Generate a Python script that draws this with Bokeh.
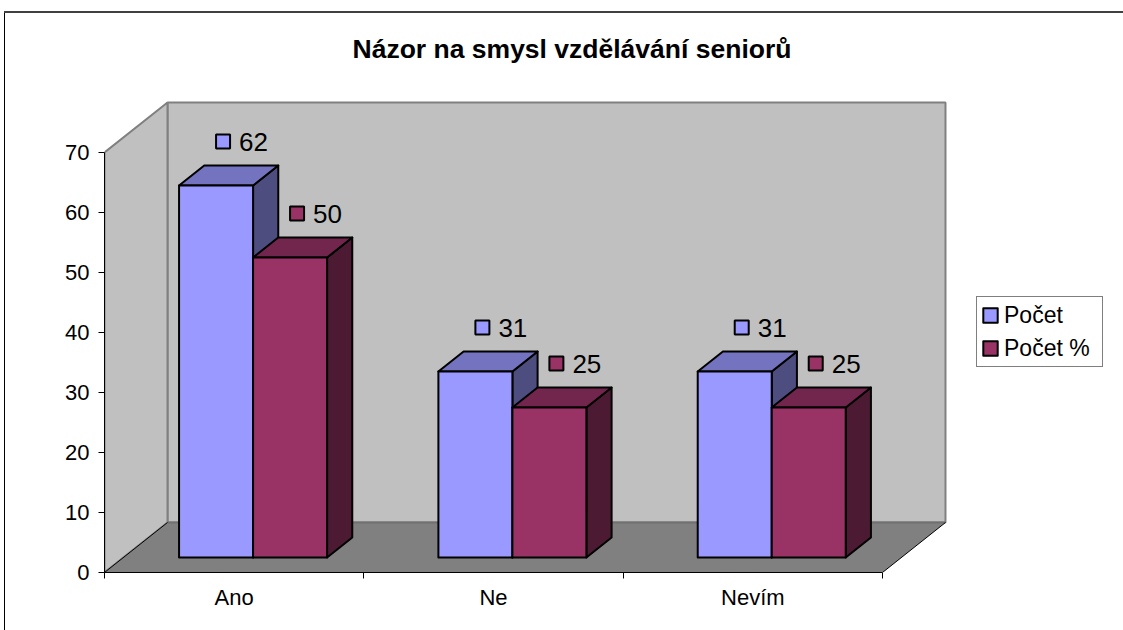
from bokeh.plotting import figure
from bokeh.models import Range1d, FixedTicker, Legend, LegendItem
from bokeh.embed import file_html
from bokeh.resources import INLINE
from bokeh.core.properties import value

# ---------------- data ----------------
chart_title = "Názor na smysl vzdělávání seniorů"
categories = ["Ano", "Ne", "Nevím"]
series_names = ["Počet", "Počet %"]
pocet = [62, 31, 31]
pocet_pct = [50, 25, 25]
y_ticks = [0, 10, 20, 30, 40, 50, 60, 70]
y_max = 70

# ---------------- style / layout ----------------
FONT = "Liberation Sans"
W, H = 1123, 630
ML, MB = 104, 58           # frame left at x=104, bottom at y=572
SX = 259.33                # px per category
SY = 6.0                   # px per value unit
x_end = (W - ML) / SX
y_end = (H - MB) / SY
DEPTH_X = 63 / SX
DEPTH_Y = 50 / SY
BAR_W = 74 / SX
F0, F1 = 0.3, 0.7
LBL_DX = 7 / SX
LBL_DY = 44 / SY

front_colors = ["#9999FF", "#993366"]
top_colors = ["#7373BF", "#73264D"]
side_colors = ["#4D4D80", "#4D1A33"]
WALL = "#C0C0C0"
WALL_EDGE = "#808080"
FLOOR = "#808080"

n = len(categories)

# outer chart border (top and left edges) drawn as background of the figure host
border_css = ("linear-gradient(#404040,#404040) 4px 11px / 1119px 2px no-repeat, "
              "linear-gradient(#000000,#000000) 4px 11px / 1px 619px no-repeat, white")

p = figure(width=W, height=H, output_backend="svg", toolbar_location=None,
           x_range=Range1d(0, x_end), y_range=Range1d(0, y_end),
           min_border_left=ML, min_border_bottom=MB, min_border_top=0, min_border_right=0,
           styles={"background": border_css})
p.background_fill_color = None
p.border_fill_color = None
p.outline_line_color = None
p.grid.visible = False

# ---------------- walls & floor ----------------
p.quad(left=DEPTH_X, right=n + DEPTH_X, bottom=DEPTH_Y, top=y_max + DEPTH_Y,
       fill_color=WALL, line_color=WALL_EDGE, line_width=2)
p.patch([0, DEPTH_X, DEPTH_X, 0], [0, DEPTH_Y, y_max + DEPTH_Y, y_max],
        fill_color=WALL, line_color=WALL_EDGE, line_width=2)
p.patch([0, DEPTH_X, n + DEPTH_X, n], [0, DEPTH_Y, DEPTH_Y, 0],
        fill_color=FLOOR, line_color=None)
p.line([DEPTH_X, n + DEPTH_X], [DEPTH_Y, DEPTH_Y], line_color="#707070", line_width=2)
p.line([n, n + DEPTH_X], [-1.2 / SY, DEPTH_Y - 1.2 / SY], line_color="white", line_width=1)
p.segment(x0=[0, n], y0=[0, 0], x1=[DEPTH_X, n + DEPTH_X], y1=[DEPTH_Y, DEPTH_Y],
          line_color="black", line_width=1)

# ---------------- bars ----------------
front_renderers = []
ddx = (F1 - F0) * DEPTH_X
ddy = (F1 - F0) * DEPTH_Y
for s, vals in enumerate([pocet, pocet_pct]):
    fl, fr, fb, ft = [], [], [], []
    tx, ty, sxs, sys_ = [], [], [], []
    lx, ly, lt = [], [], []
    for i, v in enumerate(vals):
        xl = i + 0.5 - BAR_W + s * BAR_W + F0 * DEPTH_X
        xr = xl + BAR_W
        yb = F0 * DEPTH_Y
        yt = yb + v
        fl.append(xl); fr.append(xr); fb.append(yb); ft.append(yt)
        tx.append([xl, xr, xr + ddx, xl + ddx]); ty.append([yt, yt, yt + ddy, yt + ddy])
        sxs.append([xr, xr + ddx, xr + ddx, xr]); sys_.append([yb, yb + ddy, yt + ddy, yt])
        lx.append((xl + xr) / 2 + LBL_DX); ly.append(yt + LBL_DY); lt.append(str(v))
    p.patches(sxs, sys_, fill_color=side_colors[s], line_color="black", line_width=2,
              line_join="round")
    p.patches(tx, ty, fill_color=top_colors[s], line_color="black", line_width=2,
              line_join="round")
    r = p.quad(left=fl, right=fr, bottom=fb, top=ft, fill_color=front_colors[s],
               line_color="black", line_width=2, line_join="round")
    front_renderers.append(r)
    p.scatter(lx, ly, marker="square", size=14, fill_color=front_colors[s],
              line_color="black", line_width=2)
    p.text(lx, ly, text=lt, x_offset=16, text_align="left", text_baseline="middle",
           text_font=value(FONT), text_font_size="26px", text_color="black")

# ---------------- title ----------------
p.text(x=[(571.5 - ML) / SX], y=[(572 - 48) / SY], text=[chart_title],
       text_align="center", text_baseline="alphabetic", text_font=value(FONT),
       text_font_size="26.5px", text_font_style="bold", text_color="black")

# ---------------- axes ----------------
ya = p.yaxis[0]
ya.ticker = FixedTicker(ticks=y_ticks)
ya.bounds = (0, y_max)
ya.major_tick_out = 6
ya.major_tick_in = 0
ya.minor_tick_line_color = None
ya.axis_line_color = "black"
ya.major_tick_line_color = "black"
ya.major_label_standoff = 9
ya.major_label_text_font = FONT
ya.major_label_text_font_size = "22px"
ya.major_label_text_color = "black"

xa = p.xaxis[0]
centers = [i + 0.5 for i in range(n)]
xa.ticker = FixedTicker(ticks=centers, minor_ticks=list(range(n + 1)))
xa.major_label_overrides = {c: lab for c, lab in zip(centers, categories)}
xa.bounds = (0, n)
xa.major_tick_line_color = None
xa.major_tick_out = 0
xa.major_tick_in = 0
xa.minor_tick_out = 6
xa.minor_tick_in = 0
xa.minor_tick_line_color = "black"
xa.axis_line_color = "black"
xa.major_label_standoff = 6
xa.major_label_text_font = FONT
xa.major_label_text_font_size = "22px"
xa.major_label_text_color = "black"

# ---------------- legend ----------------
legend = Legend(
    items=[LegendItem(label=nm, renderers=[r]) for nm, r in zip(series_names, front_renderers)],
    location=(872, 205), orientation="vertical", margin=0, padding=4, spacing=5,
    glyph_width=18, glyph_height=18, label_standoff=5, label_height=28, label_width=94,
    label_text_font=FONT, label_text_font_size="23px", label_text_color="black",
    border_line_color="black", border_line_width=1,
    background_fill_color="white", background_fill_alpha=1.0)
p.add_layout(legend)

open("out.html", "w").write(file_html(p, INLINE))
